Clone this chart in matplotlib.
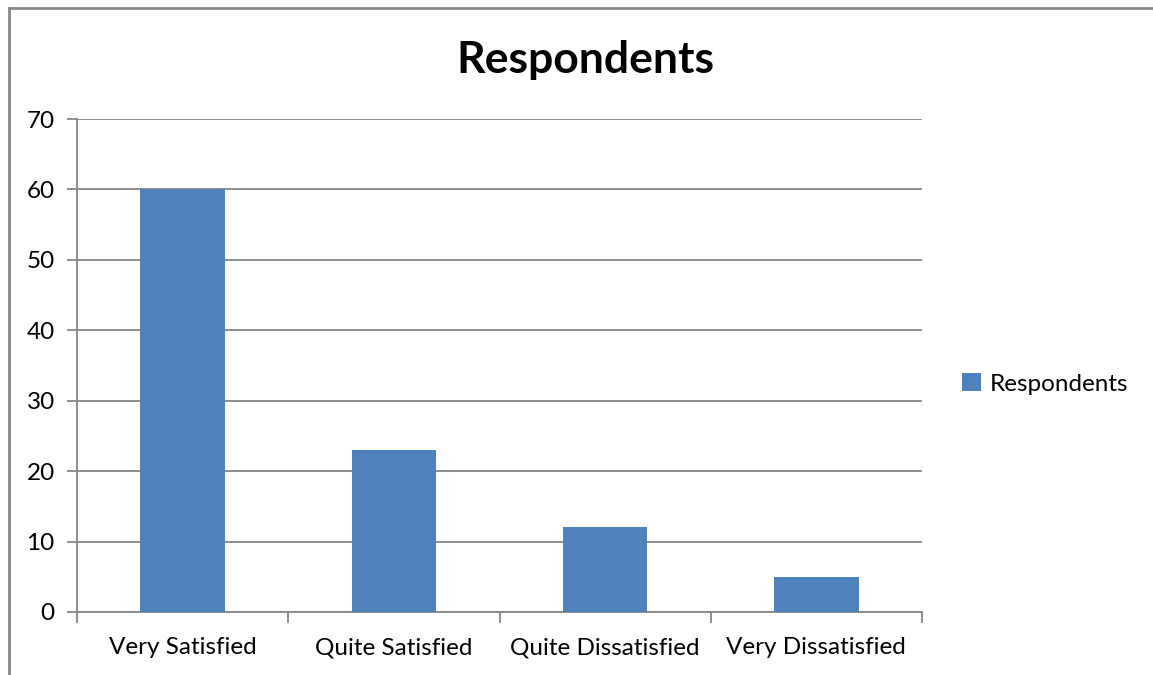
import matplotlib.pyplot as plt
from matplotlib.lines import Line2D

categories = ['Very Satisfied', 'Quite Satisfied', 'Quite Dissatisfied', 'Very Dissatisfied']
respondents = [60, 23, 12, 5]
y_ticks = [0, 10, 20, 30, 40, 50, 60, 70]

plt.rcParams['font.family'] = ['Lato', 'DejaVu Sans']

W, H = 1153, 675
fig = plt.figure(figsize=(W / 100, H / 100), dpi=100)
ax = fig.add_axes([77 / W, 1 - 612 / H, (922 - 77) / W, (612 - 119) / H])

grid_col = '#868686'
x = range(len(categories))
ax.bar(x, respondents, width=0.4, color='#4F81BD', zorder=3, label='Respondents')

ax.set_xlim(-0.5, len(categories) - 0.5)
ax.set_ylim(0, 70)
ax.set_yticks(y_ticks)
ax.yaxis.grid(True, color=grid_col, linewidth=1.3, zorder=0)

ax.set_xticks(list(x))
ax.set_xticklabels(categories, fontsize=17.5)
ax.tick_params(axis='x', length=0, pad=18)
ax.set_xticks([i - 0.5 for i in range(len(categories) + 1)], minor=True)
ax.tick_params(axis='x', which='minor', length=8, width=1.3, color=grid_col, direction='out')
ax.tick_params(axis='y', length=7, width=1.3, color=grid_col, labelsize=17.5, pad=9)

for s in ['top', 'right']:
    ax.spines[s].set_visible(False)
for s in ['left', 'bottom']:
    ax.spines[s].set_color(grid_col)
    ax.spines[s].set_linewidth(1.3)

fig.text(585 / W, 1 - 60 / H, 'Respondents', ha='center', va='center',
         fontsize=32, fontweight='bold')

fig.legend(loc='center left', bbox_to_anchor=(955 / W, 1 - 384 / H), frameon=False,
           fontsize=17.5, handlelength=0.75, handleheight=0.75, handletextpad=0.4,
           borderaxespad=0, borderpad=0.3)

# outer chart border (left and top edges visible)
fig.add_artist(Line2D([8.5 / W, 8.5 / W], [0, 1 - 7.5 / H], transform=fig.transFigure,
                      color='#888888', linewidth=2))
fig.add_artist(Line2D([8.5 / W, 1], [1 - 7.5 / H, 1 - 7.5 / H], transform=fig.transFigure,
                      color='#888888', linewidth=2))

fig.savefig('out.png', dpi=100)
